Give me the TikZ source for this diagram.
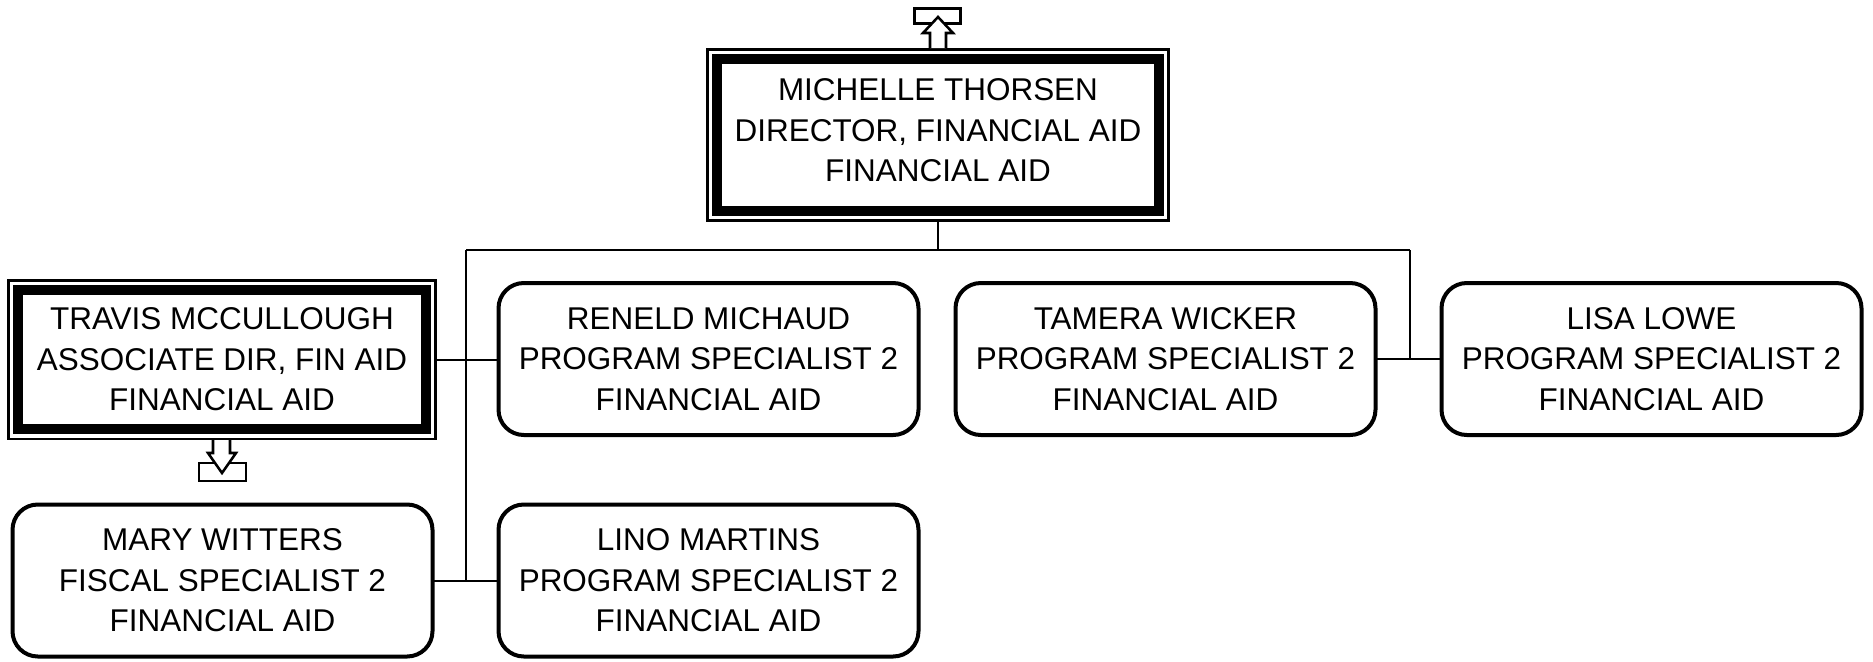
\documentclass[tikz,border=0pt]{standalone}
\usepackage{fontspec}
\setmainfont{Liberation Sans}
\begin{document}
\begin{tikzpicture}[x=0.75pt, y=-0.75pt,
    staff/.style={draw, line width=3pt, rounded corners=19pt, fill=white,
        align=center, inner sep=0pt, outer sep=0pt,
        minimum width=315pt, minimum height=114pt,
        font=\fontsize{23.6}{30.4}\selectfont},
    head/.style={draw, line width=7.5pt, fill=white, align=center,
        inner sep=0pt, outer sep=0pt,
        font=\fontsize{23.6}{30.4}\selectfont},
    frame/.style={draw, line width=1.9pt, inner sep=0pt, outer sep=0pt},
    icon/.style={draw, line width=1.9pt, fill=white, line join=miter},
    link/.style={line width=1.5pt}]
    % 画布大小
    \useasboundingbox (0,0) rectangle (1873,661);

    % 主任（双线框）
    \node[head, minimum width=331.5pt, minimum height=114pt, text depth=7pt] (thorsen) at (938,135)
        {MICHELLE THORSEN\\DIRECTOR, FINANCIAL AID\\FINANCIAL AID};
    \node[frame, minimum width=346.1pt, minimum height=128.6pt] (thorsenframe) at (thorsen) {};

    % 副主任（双线框）
    \node[head, minimum width=306pt, minimum height=104.25pt] (mccullough) at (222,359.5)
        {TRAVIS MCCULLOUGH\\ASSOCIATE DIR, FIN AID\\FINANCIAL AID};
    \node[frame, minimum width=320.6pt, minimum height=118.9pt] (mcculloughframe) at (mccullough) {};

    % 其他职员
    \node[staff] (michaud) at (708.5,359) {RENELD MICHAUD\\PROGRAM SPECIALIST 2\\FINANCIAL AID};
    \node[staff] (wicker) at (1165.5,359) {TAMERA WICKER\\PROGRAM SPECIALIST 2\\FINANCIAL AID};
    \node[staff] (lowe) at (1651.5,359) {LISA LOWE\\PROGRAM SPECIALIST 2\\FINANCIAL AID};
    \node[staff] (witters) at (222.5,580.5) {MARY WITTERS\\FISCAL SPECIALIST 2\\FINANCIAL AID};
    \node[staff] (martins) at (708.5,580.5) {LINO MARTINS\\PROGRAM SPECIALIST 2\\FINANCIAL AID};

    % 连线
    \coordinate (busL) at (466,250);
    \coordinate (busR) at (1410,250);
    \draw[link] (thorsenframe.south) -- (thorsenframe.south |- busL);
    \draw[link] (busL) -- (busR);
    \draw[link] (busL) -- (busL |- witters.east);
    \draw[link] (busR) -- (busR |- lowe.west);
    \draw[link] (mcculloughframe.east) -- (mcculloughframe.east -| michaud.west);
    \draw[link] (witters.east) -- (martins.west);
    \draw[link] (wicker.east) -- (lowe.west);

    % 向上箭头图标
    \draw[icon] (914.25,8.25) rectangle (960.75,23.75);
    \draw[icon] (930,48) -- (930,33) -- (923,33) -- (938,17) -- (953,33)
        -- (946,33) -- (946,48);

    % 向下箭头图标
    \draw[icon] (199,463) rectangle (246,481);
    \draw[icon] (213,440) -- (213,453) -- (208,453) -- (222,473) -- (236,453)
        -- (230,453) -- (230,440);
\end{tikzpicture}
\end{document}
